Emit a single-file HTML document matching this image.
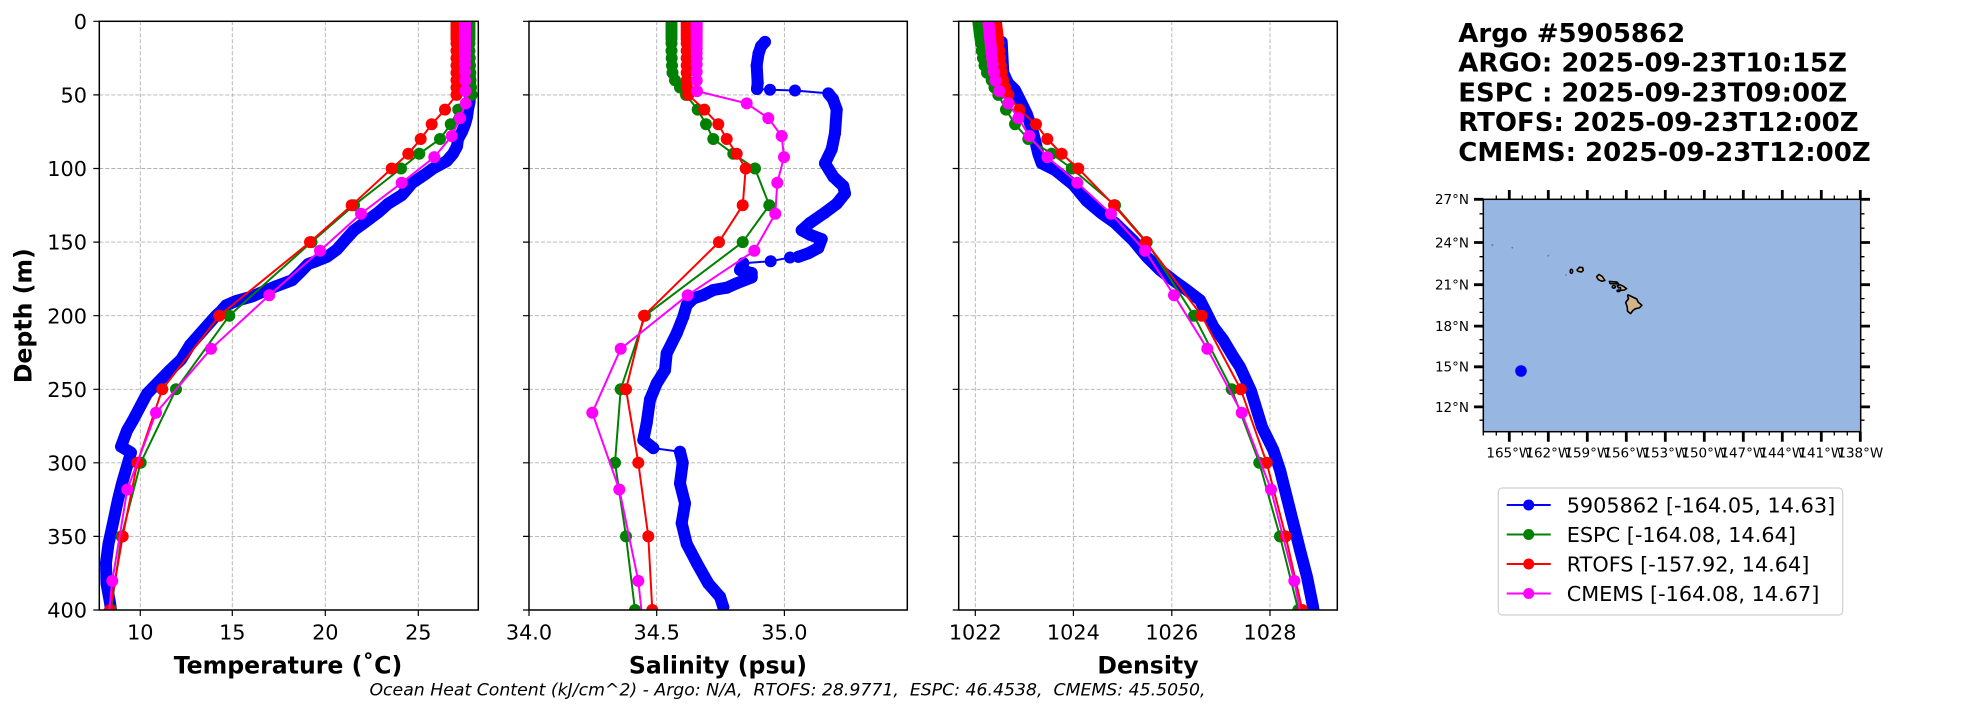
<!DOCTYPE html>
<html><head><meta charset="utf-8"><style>
html,body{margin:0;padding:0;background:#fff;width:1967px;height:712px;overflow:hidden}
svg{display:block}
text{font-family:"DejaVu Sans","Liberation Sans",sans-serif;fill:#000}
</style></head><body>
<svg xmlns="http://www.w3.org/2000/svg" width="1967" height="712" viewBox="0 0 1967 712" overflow="hidden">
<defs>
<clipPath id="c1"><rect x="99.3" y="21.3" width="379" height="588.7"/></clipPath>
<clipPath id="c2"><rect x="529" y="21.3" width="378.3" height="588.7"/></clipPath>
<clipPath id="c3"><rect x="958.7" y="21.3" width="378.6" height="588.7"/></clipPath>
<marker id="mB" viewBox="0 0 12 12" refX="6" refY="6" markerWidth="12" markerHeight="12" markerUnits="userSpaceOnUse" overflow="visible"><circle cx="6" cy="6" r="6" fill="#0000ff"/></marker>
<marker id="mG" viewBox="0 0 12 12" refX="6" refY="6" markerWidth="12" markerHeight="12" markerUnits="userSpaceOnUse" overflow="visible"><circle cx="6" cy="6" r="6" fill="#008000"/></marker>
<marker id="mR" viewBox="0 0 12 12" refX="6" refY="6" markerWidth="12" markerHeight="12" markerUnits="userSpaceOnUse" overflow="visible"><circle cx="6" cy="6" r="6" fill="#ff0000"/></marker>
<marker id="mM" viewBox="0 0 12 12" refX="6" refY="6" markerWidth="12" markerHeight="12" markerUnits="userSpaceOnUse" overflow="visible"><circle cx="6" cy="6" r="6" fill="#ff00ff"/></marker>
</defs>
<rect width="1967" height="712" fill="#fff"/>

<!-- ===== Panel 1: Temperature ===== -->
<g stroke="#b0b0b0" stroke-width="0.9" stroke-dasharray="4,2" fill="none">
<path d="M140.3 21.3V610M232.3 21.3V610M325.3 21.3V610M418.3 21.3V610"/>
<path d="M99.3 94.9H478.3M99.3 168.5H478.3M99.3 242.1H478.3M99.3 315.7H478.3M99.3 389.3H478.3M99.3 462.8H478.3M99.3 536.4H478.3"/>
</g>
<g clip-path="url(#c1)" fill="none" stroke-linejoin="round" stroke-linecap="round">
<polyline stroke="#0000ff" stroke-width="12" points="468,41.9 468.5,50.7 469,65.5 470,80.2 470,94.9 469.5,102.3 468,109.6 467,117 465,124.3 462,131.7 458,139 457,146.4 453,153.8 446.7,161.1 433,168.5 425,174.4 412,183.2 402,195 388,203.8 378,212.6 366,221.5 354,230.3 346,239.1 337,249.4 327,256.8 316,261.2 308,264.1 301,271.5 292,280.3 276,286.2 262,292.1 252,296.5 236,301 226,305.4 221,311.2 216,315.7 203,330.4 190,345.1 181,359.8 170,370.1 157,383.4 147,393.7 140,406.9 133,420.2 127,430.5 121,446.6 131,452.5 128,462.8 122,483.4 118,499.6 113,523.2 108.5,543.8 106,562.9 106.5,583.5 110,602.7 111,610"/>
<polyline stroke="#008000" stroke-width="2" marker-start="url(#mG)" marker-mid="url(#mG)" marker-end="url(#mG)" points="469.5,21.3 469.5,24.2 469.5,27.2 469.5,30.1 469.5,33.1 469.5,36 469.5,39 469.5,43.4 469.5,50.7 469.8,58.1 470,65.5 470.3,72.8 470.5,80.2 471,87.5 471.7,94.9 458.3,109.6 450.7,124.3 440,139 419.3,153.8 401,168.5 354,205.3 311.5,242.1 229.3,315.7 176,389.3 140.7,462.8 121.5,536.4 111,610 107.7,650"/>
<polyline stroke="#ff0000" stroke-width="2" marker-start="url(#mR)" marker-mid="url(#mR)" marker-end="url(#mR)" points="456.5,21.3 456.5,24.2 456.5,27.2 456.5,30.1 456.5,33.1 456.5,36 456.5,39 456.5,43.4 456.5,50.7 456.5,58.1 456.5,65.5 456.5,72.8 456.5,80.2 456.5,87.5 456.5,94.9 445,109.6 431.7,124.3 420.7,139 408.3,153.8 391.7,168.5 351.7,205.3 310,242.1 219.3,315.7 162.3,389.3 137.3,462.8 122.7,536.4 110,610 106.7,650"/>
<polyline stroke="#ff00ff" stroke-width="2" marker-start="url(#mM)" marker-mid="url(#mM)" marker-end="url(#mM)" points="465,22 465,23.6 465,25.2 465,26.9 465,28.8 465,30.8 465,33 465,35.4 465,38.1 465,41.1 465,44.6 465,48.5 465,53.1 465,58.4 465,64.6 465,71.9 465.3,80.6 465.5,91.1 465.7,103.4 460,118.1 451.7,136 434.3,157.1 401.7,182.8 361,213.7 320,250.8 269.3,295.2 211,348.8 156,412.8 127.3,489.5 112.3,580.9 105.1,650"/>
</g>
<rect x="99.3" y="21.3" width="379" height="588.7" fill="none" stroke="#000" stroke-width="1.5"/>
<g stroke="#000" stroke-width="1.2">
<path d="M93.3 21.3H99.3M93.3 94.9H99.3M93.3 168.5H99.3M93.3 242.1H99.3M93.3 315.7H99.3M93.3 389.3H99.3M93.3 462.8H99.3M93.3 536.4H99.3M93.3 610H99.3"/>
<path d="M140.3 610V616M232.3 610V616M325.3 610V616M418.3 610V616"/>
</g>
<g font-size="20.8" text-anchor="end">
<text x="87" y="28.9">0</text><text x="87" y="102.5">50</text><text x="87" y="176.1">100</text><text x="87" y="249.7">150</text><text x="87" y="323.3">200</text><text x="87" y="396.9">250</text><text x="87" y="470.4">300</text><text x="87" y="544">350</text><text x="87" y="617.6">400</text>
</g>
<g font-size="20.8" text-anchor="middle">
<text x="140.3" y="639.3">10</text><text x="232.3" y="639.3">15</text><text x="325.3" y="639.3">20</text><text x="418.3" y="639.3">25</text>
</g>
<text x="288" y="673.3" font-size="23.6" font-weight="bold" text-anchor="middle">Temperature (˚C)</text>
<text transform="translate(31.5,315.7) rotate(-90)" font-size="23.6" font-weight="bold" text-anchor="middle">Depth (m)</text>

<!-- ===== Panel 2: Salinity ===== -->
<g stroke="#b0b0b0" stroke-width="0.9" stroke-dasharray="4,2" fill="none">
<path d="M656.7 21.3V610M784.4 21.3V610"/>
<path d="M529 94.9H907.3M529 168.5H907.3M529 242.1H907.3M529 315.7H907.3M529 389.3H907.3M529 462.8H907.3M529 536.4H907.3"/>
</g>
<g clip-path="url(#c2)" fill="none" stroke-linejoin="round" stroke-linecap="round">
<polyline stroke="#0000ff" stroke-width="12" points="765,41.9 761,46.3 758.5,53.7 756.7,65.5 757.7,83.1 757,89"/>
<polyline stroke="#0000ff" stroke-width="12" points="828.3,93.4 833,99.3 836.7,109.6 835,133.2 831.7,149.3 825,163.3 833.3,176.7 843.3,186.1 845,193.5 836.7,203.8 825,212.6 810,222.9 801.7,230.3 810,234.7 821.7,239.1 818.3,248 808.3,253.3 798.3,256.8"/>
<polyline stroke="#0000ff" stroke-width="12" points="743.3,263.3 740,270 751.7,273 751.7,277.4 736.7,283.3 726.7,287.7 713.3,290 703.3,295.1 693.3,298.6 686.7,305.1 683.3,316.7 676.7,333.3 666.7,353.3 665,370.1 656.7,383.4 650,399.6 646.7,423.1 643.3,440 653.3,448.1"/>
<polyline stroke="#0000ff" stroke-width="12" points="680,451.8 682.7,462.8 680,483.4 685,503.3 681.7,523.2 686.7,543.8 696.7,562.9 708.3,583.5 720,596.8 723.3,607.1"/>
<polyline stroke="#0000ff" stroke-width="2" marker-start="url(#mB)" marker-mid="url(#mB)" marker-end="url(#mB)" points="765,41.9 761,46.3 758.5,53.7 756.7,65.5 757.7,83.1 757,89 770,89.7 795,90.5 828.3,93.4 833,99.3 836.7,109.6 835,133.2 831.7,149.3 825,163.3 833.3,176.7 843.3,186.1 845,193.5 836.7,203.8 825,212.6 810,222.9 801.7,230.3 810,234.7 821.7,239.1 818.3,248 808.3,253.3 798.3,256.8 790,257.5 770.7,261.2 743.3,263.3 740,270 751.7,273 751.7,277.4 736.7,283.3 726.7,287.7 713.3,290 703.3,295.1 693.3,298.6 686.7,305.1 683.3,316.7 676.7,333.3 666.7,353.3 665,370.1 656.7,383.4 650,399.6 646.7,423.1 643.3,440 653.3,448.1 680,451.8 682.7,462.8 680,483.4 685,503.3 681.7,523.2 686.7,543.8 696.7,562.9 708.3,583.5 720,596.8 723.3,607.1"/>
<polyline stroke="#008000" stroke-width="2" marker-start="url(#mG)" marker-mid="url(#mG)" marker-end="url(#mG)" points="671.5,21.3 671.5,24.2 671.5,27.2 671.5,30.1 671.5,33.1 671.5,36 671.5,39 671.5,43.4 671.5,50.7 671.7,58.1 672,65.5 672.5,72.8 675,80.2 680,87.5 686,94.9 697.7,109.6 706,124.3 713.3,139 733.3,153.8 755,168.5 769.3,205.3 742.7,242.1 645,315.7 620.7,389.3 615,462.8 626,536.4 635,610 639.1,650"/>
<polyline stroke="#ff0000" stroke-width="2" marker-start="url(#mR)" marker-mid="url(#mR)" marker-end="url(#mR)" points="686.7,21.3 686.7,24.2 686.7,27.2 686.7,30.1 686.7,33.1 686.7,36 686.7,39 686.7,43.4 686.7,50.7 686.7,58.1 686.7,65.5 686.7,72.8 686.7,80.2 687,87.5 688.3,94.9 704.3,109.6 718.3,124.3 726.7,139 736.7,153.8 745.7,168.5 742.7,205.3 719,242.1 644,315.7 626,389.3 638.3,462.8 648.3,536.4 652.3,610 654.4,650"/>
<polyline stroke="#ff00ff" stroke-width="2" marker-start="url(#mM)" marker-mid="url(#mM)" marker-end="url(#mM)" points="696.7,22 696.7,23.6 696.7,25.2 696.7,26.9 696.7,28.8 696.7,30.8 696.7,33 696.7,35.4 696.7,38.1 696.7,41.1 696.7,44.6 696.7,48.5 696.7,53.1 696.7,58.4 696.7,64.6 696.7,71.9 696.7,80.6 697,91.1 746.7,103.4 768.3,118.1 781.7,136 784,157.1 777.3,182.8 775.3,213.7 754.3,250.8 687.7,295.2 620.7,348.8 592.3,412.8 619.3,489.5 638.3,580.9 645.8,650"/>
</g>
<rect x="529" y="21.3" width="378.3" height="588.7" fill="none" stroke="#000" stroke-width="1.5"/>
<g stroke="#000" stroke-width="1.2">
<path d="M523 21.3H529M523 94.9H529M523 168.5H529M523 242.1H529M523 315.7H529M523 389.3H529M523 462.8H529M523 536.4H529M523 610H529"/>
<path d="M529 610V616M656.7 610V616M784.4 610V616"/>
</g>
<g font-size="20.8" text-anchor="middle">
<text x="529" y="639.3">34.0</text><text x="656.7" y="639.3">34.5</text><text x="784.4" y="639.3">35.0</text>
</g>
<text x="718" y="673.3" font-size="23.6" font-weight="bold" text-anchor="middle">Salinity (psu)</text>

<!-- ===== Panel 3: Density ===== -->
<g stroke="#b0b0b0" stroke-width="0.9" stroke-dasharray="4,2" fill="none">
<path d="M975.3 21.3V610M1073.4 21.3V610M1171.8 21.3V610M1270 21.3V610"/>
<path d="M958.7 94.9H1337.3M958.7 168.5H1337.3M958.7 242.1H1337.3M958.7 315.7H1337.3M958.7 389.3H1337.3M958.7 462.8H1337.3M958.7 536.4H1337.3"/>
</g>
<g clip-path="url(#c3)" fill="none" stroke-linejoin="round" stroke-linecap="round">
<polyline stroke="#0000ff" stroke-width="12" points="1001.7,41.9 1002.5,58.1 1003.3,72.8 1008,83.1 1015,90 1020,100 1026.7,113.6 1033.3,133.2 1038.3,153.8 1041.7,163.3 1055,170 1073.3,184.7 1086.7,200.9 1101.7,213.5 1115,222.9 1133.3,240.6 1146.7,256.8 1160,270 1173.3,280.3 1186.7,290 1200,300.1 1206.7,313.3 1213.3,326.7 1223.3,339.9 1233.3,356.7 1240,367 1251,391 1262,427 1273.3,450 1280,470 1290,510 1300,550 1307,576.9 1313,606.6 1313.5,610"/>
<polyline stroke="#008000" stroke-width="2" marker-start="url(#mG)" marker-mid="url(#mG)" marker-end="url(#mG)" points="978.3,21.3 978.6,24.2 979,27.2 979.3,30.1 979.7,33.1 980,36 980.5,39 981,43.4 981.7,50.7 983,58.1 984.5,65.5 987,72.8 991.7,80.2 994.5,87.5 998.3,94.9 1006,109.6 1015,124.3 1028.3,139 1051.7,153.8 1071.7,168.5 1115,205.3 1146.7,242.1 1194,315.7 1231.7,389.3 1259.3,462.8 1280,536.4 1298.3,610 1305.6,650"/>
<polyline stroke="#ff0000" stroke-width="2" marker-start="url(#mR)" marker-mid="url(#mR)" marker-end="url(#mR)" points="996,21.3 996.3,24.2 996.6,27.2 997,30.1 997.3,33.1 997.6,36 998,39 998.5,43.4 999.3,50.7 1000,58.1 1000.8,65.5 1001.8,72.8 1003,80.2 1005,87.5 1008.3,94.9 1019.3,109.6 1036,124.3 1047.3,139 1061.7,153.8 1078.3,168.5 1114,205.3 1146,242.1 1201.7,315.7 1240.7,389.3 1266.7,462.8 1285.7,536.4 1302.3,610 1309.8,650"/>
<polyline stroke="#ff00ff" stroke-width="2" marker-start="url(#mM)" marker-mid="url(#mM)" marker-end="url(#mM)" points="988.3,22 988.5,23.6 988.7,25.2 988.9,26.9 989.1,28.8 989.3,30.8 989.5,33 989.8,35.4 990,38.1 990.3,41.1 990.6,44.6 991,48.5 991.5,53.1 992,58.4 992.7,64.6 993.6,71.9 995.5,80.6 999.3,91.1 1008.3,103.4 1018.3,118.1 1029.3,136 1047.3,157.1 1077.3,182.8 1111,213.7 1145,250.8 1174,295.2 1207.3,348.8 1241.7,412.8 1271,489.5 1294.3,580.9 1307.5,650"/>
</g>
<rect x="958.7" y="21.3" width="378.6" height="588.7" fill="none" stroke="#000" stroke-width="1.5"/>
<g stroke="#000" stroke-width="1.2">
<path d="M952.7 21.3H958.7M952.7 94.9H958.7M952.7 168.5H958.7M952.7 242.1H958.7M952.7 315.7H958.7M952.7 389.3H958.7M952.7 462.8H958.7M952.7 536.4H958.7M952.7 610H958.7"/>
<path d="M975.3 610V616M1073.4 610V616M1171.8 610V616M1270 610V616"/>
</g>
<g font-size="20.8" text-anchor="middle">
<text x="975.3" y="639.3">1022</text><text x="1073.4" y="639.3">1024</text><text x="1171.8" y="639.3">1026</text><text x="1270" y="639.3">1028</text>
</g>
<text x="1148" y="673.3" font-size="23.6" font-weight="bold" text-anchor="middle">Density</text>

<!-- caption -->
<text x="787.5" y="695.5" font-size="17.3" font-style="italic" text-anchor="middle" style="white-space:pre" xml:space="preserve">Ocean Heat Content (kJ/cm^2) - Argo: N/A,  RTOFS: 28.9771,  ESPC: 46.4538,  CMEMS: 45.5050,</text>

<!-- title -->
<g font-size="26" font-weight="bold">
<text x="1458.3" y="41.8">Argo #5905862</text>
<text x="1458.3" y="71.6">ARGO: 2025-09-23T10:15Z</text>
<text x="1458.3" y="101.4">ESPC : 2025-09-23T09:00Z</text>
<text x="1458.3" y="131.2">RTOFS: 2025-09-23T12:00Z</text>
<text x="1458.3" y="161">CMEMS: 2025-09-23T12:00Z</text>
</g>

<!-- map -->
<rect x="1483.3" y="199.3" width="377.4" height="232.4" fill="#97b6e1"/>
<g fill="#d2b48c" stroke="#000" stroke-width="1.6" stroke-linejoin="round">
<polygon points="1628.1,294.8 1631.5,296.5 1636.7,299 1638.3,302.3 1641.9,305.2 1639.3,307.9 1635.4,308.7 1632.8,310.6 1630.6,313.6 1627.6,311.3 1627.2,306.9 1625.7,302.5 1628.5,298.6 1627.6,295.8"/>
<polygon points="1617.2,285.7 1619.8,284.7 1623.1,286.1 1626.6,288.6 1624.4,290 1620.7,290.5 1620.4,287.5 1618.5,287.8"/>
<polygon points="1609.4,281.4 1617,282.1 1618.5,283.8 1610,283.6"/>
<polygon points="1596.7,276.6 1599,274.4 1602.3,276.5 1604.9,280.5 1601.7,281.2 1598.7,279.8 1597.5,278.4"/>
<polygon points="1577,270 1579.4,267.3 1582.6,267.5 1583.3,270.3 1581.4,272 1578.1,271.4"/>
<ellipse cx="1613.8" cy="286.8" rx="1.6" ry="1.3"/>
<ellipse cx="1618.4" cy="290.8" rx="1.3" ry="0.8"/>
<ellipse cx="1571.4" cy="271.3" rx="1.2" ry="2"/>
</g>
<g fill="#777">
<circle cx="1566" cy="275" r="0.9"/><circle cx="1548.3" cy="255.7" r="0.9"/><circle cx="1512.3" cy="247.7" r="0.9"/><circle cx="1492.3" cy="245" r="1"/>
</g>
<circle cx="1521" cy="371" r="5.8" fill="#0000ff"/>
<rect x="1483.3" y="199.3" width="377.4" height="232.4" fill="none" stroke="#000" stroke-width="1.5"/>
<g stroke="#000" stroke-width="2.8">
<path d="M1509.3 190V199.3M1548.3 190V199.3M1587.3 190V199.3M1626.3 190V199.3M1665.3 190V199.3M1704.3 190V199.3M1743.3 190V199.3M1782.3 190V199.3M1821.3 190V199.3M1860.3 190V199.3"/>
<path d="M1509.3 431.7V441.7M1548.3 431.7V441.7M1587.3 431.7V441.7M1626.3 431.7V441.7M1665.3 431.7V441.7M1704.3 431.7V441.7M1743.3 431.7V441.7M1782.3 431.7V441.7M1821.3 431.7V441.7M1860.3 431.7V441.7"/>
<path d="M1474 199.3H1483.3M1474 242.5H1483.3M1474 284.7H1483.3M1474 326.1H1483.3M1474 366.8H1483.3M1474 406.9H1483.3"/>
<path d="M1860.7 199.3H1870M1860.7 242.5H1870M1860.7 284.7H1870M1860.7 326.1H1870M1860.7 366.8H1870M1860.7 406.9H1870"/>
</g>
<g stroke="#000" stroke-width="1.3">
<path d="M1496.3 195.5V199.3M1522.3 195.5V199.3M1535.3 195.5V199.3M1561.3 195.5V199.3M1574.3 195.5V199.3M1600.3 195.5V199.3M1613.3 195.5V199.3M1639.3 195.5V199.3M1652.3 195.5V199.3M1678.3 195.5V199.3M1691.3 195.5V199.3M1717.3 195.5V199.3M1730.3 195.5V199.3M1756.3 195.5V199.3M1769.3 195.5V199.3M1795.3 195.5V199.3M1808.3 195.5V199.3M1834.3 195.5V199.3M1847.3 195.5V199.3"/>
<path d="M1483.3 431.7V435.5M1496.3 431.7V435.5M1522.3 431.7V435.5M1535.3 431.7V435.5M1561.3 431.7V435.5M1574.3 431.7V435.5M1600.3 431.7V435.5M1613.3 431.7V435.5M1639.3 431.7V435.5M1652.3 431.7V435.5M1678.3 431.7V435.5M1691.3 431.7V435.5M1717.3 431.7V435.5M1730.3 431.7V435.5M1756.3 431.7V435.5M1769.3 431.7V435.5M1795.3 431.7V435.5M1808.3 431.7V435.5M1834.3 431.7V435.5M1847.3 431.7V435.5"/>
<path d="M1479.5 213.8H1483.3M1479.5 228.2H1483.3M1479.5 256.7H1483.3M1479.5 270.7H1483.3M1479.5 298.6H1483.3M1479.5 312.4H1483.3M1479.5 339.7H1483.3M1479.5 353.3H1483.3M1479.5 380.2H1483.3M1479.5 393.6H1483.3M1479.5 420.2H1483.3"/>
<path d="M1860.7 213.8H1864.5M1860.7 228.2H1864.5M1860.7 256.7H1864.5M1860.7 270.7H1864.5M1860.7 298.6H1864.5M1860.7 312.4H1864.5M1860.7 339.7H1864.5M1860.7 353.3H1864.5M1860.7 380.2H1864.5M1860.7 393.6H1864.5M1860.7 420.2H1864.5"/>
</g>
<g font-size="13.5" text-anchor="end">
<text x="1469" y="204.2">27°N</text><text x="1469" y="247.4">24°N</text><text x="1469" y="289.6">21°N</text><text x="1469" y="331">18°N</text><text x="1469" y="371.7">15°N</text><text x="1469" y="411.8">12°N</text>
</g>
<g font-size="13.5" text-anchor="middle">
<text x="1509.3" y="457.3">165°W</text><text x="1548.3" y="457.3">162°W</text><text x="1587.3" y="457.3">159°W</text><text x="1626.3" y="457.3">156°W</text><text x="1665.3" y="457.3">153°W</text><text x="1704.3" y="457.3">150°W</text><text x="1743.3" y="457.3">147°W</text><text x="1782.3" y="457.3">144°W</text><text x="1821.3" y="457.3">141°W</text><text x="1860.3" y="457.3">138°W</text>
</g>

<!-- legend -->
<rect x="1498.3" y="488" width="344.4" height="127" rx="4" ry="4" fill="#fff" stroke="#d0d0d0" stroke-width="1.2"/>
<g stroke-width="2">
<line x1="1506.7" y1="505" x2="1550.7" y2="505" stroke="#0000ff"/><circle cx="1528.7" cy="505" r="5.5" fill="#0000ff"/>
<line x1="1506.7" y1="534.5" x2="1550.7" y2="534.5" stroke="#008000"/><circle cx="1528.7" cy="534.5" r="5.5" fill="#008000"/>
<line x1="1506.7" y1="564" x2="1550.7" y2="564" stroke="#ff0000"/><circle cx="1528.7" cy="564" r="5.5" fill="#ff0000"/>
<line x1="1506.7" y1="593.5" x2="1550.7" y2="593.5" stroke="#ff00ff"/><circle cx="1528.7" cy="593.5" r="5.5" fill="#ff00ff"/>
</g>
<g font-size="20.8">
<text x="1566.7" y="512.5">5905862 [-164.05, 14.63]</text>
<text x="1566.7" y="542">ESPC [-164.08, 14.64]</text>
<text x="1566.7" y="571.5">RTOFS [-157.92, 14.64]</text>
<text x="1566.7" y="601">CMEMS [-164.08, 14.67]</text>
</g>
</svg>
</body></html>
